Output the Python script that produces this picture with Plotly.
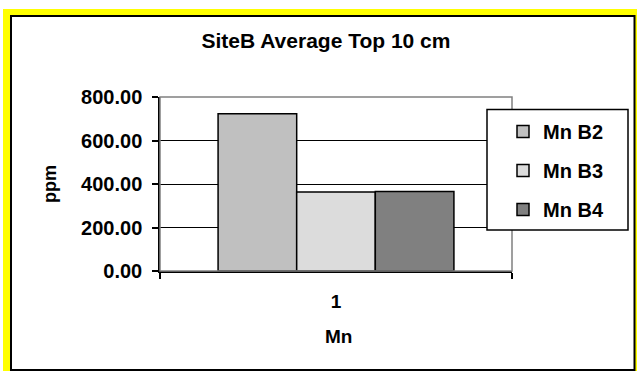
import plotly.graph_objects as go

# ---- data ----
categories = ["1"]
series_names = ["Mn B2", "Mn B3", "Mn B4"]
mn_b2 = [723]
mn_b3 = [363]
mn_b4 = [365]
y_ticks = [0, 200, 400, 600, 800]

series_values = [mn_b2, mn_b3, mn_b4]
colors = ["#C0C0C0", "#DCDCDC", "#808080"]

W, H = 637, 371
L, R, T, B = 160, 512, 97, 271  # plot area in px


def px(x):
    return (x - L) / (R - L)


def py(y):
    return (B - y) / (B - T)


FONT = "Liberation Sans, Arial, sans-serif"

fig = go.Figure()
for name, vals, col in zip(series_names, series_values, colors):
    fig.add_trace(go.Bar(
        x=categories, y=vals, name=name, legendgroup=name,
        marker=dict(color=col, line=dict(color="black", width=1.5)),
    ))

shapes = [
    # yellow frame
    dict(type="rect", xref="paper", yref="paper", layer="below",
         x0=px(3), x1=px(640), y0=py(9), y1=py(380),
         fillcolor="#FFFF00", line=dict(width=0)),
    # white chart area with black border
    dict(type="rect", xref="paper", yref="paper", layer="below",
         x0=px(11), x1=px(634.5), y0=py(16), y1=py(370),
         fillcolor="white", line=dict(color="black", width=2)),
    # plot area gray border
    dict(type="rect", xref="paper", yref="paper", layer="above",
         x0=0, x1=1, y0=0, y1=1,
         line=dict(color="#808080", width=1.5)),
    # legend box
    dict(type="rect", xref="paper", yref="paper", layer="above",
         x0=px(487), x1=px(628), y0=py(109.5), y1=py(230),
         fillcolor="white", line=dict(color="black", width=1.5)),
]

annotations = [
    dict(text="<b>ppm</b>", xref="paper", yref="paper", x=px(50), y=py(184),
         showarrow=False, textangle=-90, xanchor="center", yanchor="middle",
         font=dict(family=FONT, size=18, color="black")),
    dict(text="<b>Mn</b>", xref="paper", yref="paper", x=px(338), y=py(336),
         showarrow=False, xanchor="center", yanchor="middle",
         font=dict(family=FONT, size=19, color="black")),
]

fig.update_layout(
    width=W, height=H,
    margin=dict(l=L, r=W - R, t=T, b=H - B, pad=0),
    paper_bgcolor="white",
    plot_bgcolor="rgba(0,0,0,0)",
    barmode="group", bargap=0.33, bargroupgap=0,
    title=dict(text="<b>SiteB Average Top 10 cm</b>", xref="container", yref="container",
               x=326 / W, y=1 - 41 / H, xanchor="center", yanchor="middle",
               font=dict(family=FONT, size=21, color="black")),
    legend=dict(x=px(503), y=py(112), xanchor="left", yanchor="top",
                bgcolor="rgba(0,0,0,0)", borderwidth=0, tracegroupgap=10,
                font=dict(family=FONT, size=20, color="black", weight="bold")),
    shapes=shapes,
    annotations=annotations,
    showlegend=True,
)

fig.update_yaxes(
    range=[0, 800], tickvals=y_ticks, tickformat=".2f",
    showgrid=True, gridcolor="black", gridwidth=1,
    showline=True, linecolor="black", linewidth=1.5,
    ticks="outside", ticklen=6, tickcolor="black", tickwidth=1.5,
    ticklabelstandoff=6, zeroline=False,
    tickfont=dict(family=FONT, size=20, color="black", weight="bold"),
)
fig.update_xaxes(
    type="category",
    showline=True, linecolor="black", linewidth=1.5,
    ticks="outside", tickson="boundaries", ticklen=6, tickcolor="black", tickwidth=1.5,
    ticklabelstandoff=12,
    tickfont=dict(family=FONT, size=19, color="black", weight="bold"),
)

fig.write_html("out.html")
